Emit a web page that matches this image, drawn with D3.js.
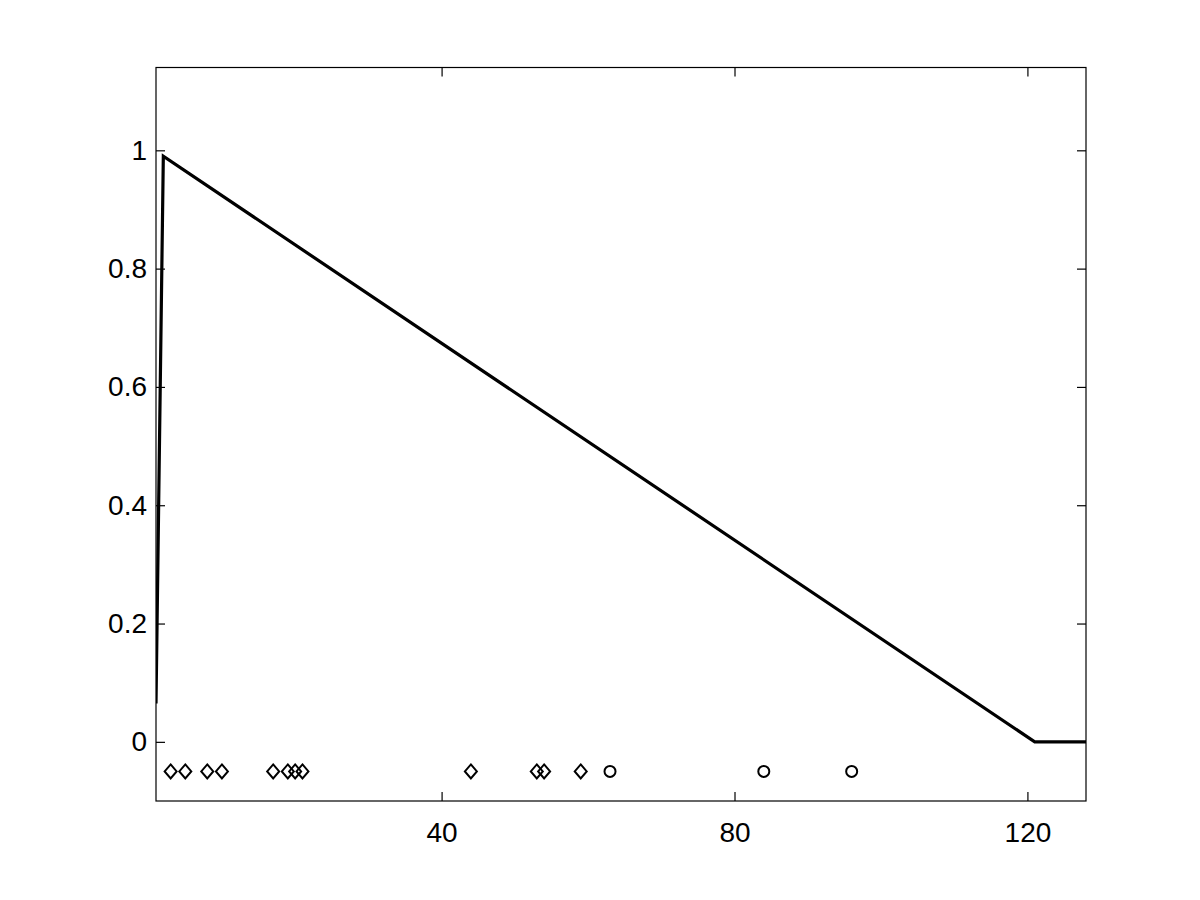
<!DOCTYPE html>
<html>
<head>
<meta charset="utf-8">
<script src="https://cdn.jsdelivr.net/npm/d3@7"></script>
<style>
  html, body { margin: 0; padding: 0; background: #fff; }
  svg { display: block; }
  text { font-family: "Liberation Sans", Arial, sans-serif; }
</style>
</head>
<body>
<svg id="chart" width="1200" height="900"></svg>
<script>
// Line series (x, y)
const lineX = [1, 2, 121, 128];
const lineY = [0.065, 0.99, 0, 0];
// Diamond markers (x positions), at y = -0.05
const diamondX = [3, 5, 8, 10, 17, 19, 20, 21, 44, 53, 54, 59];
// Circle markers (x positions), at y = -0.05
const circleX = [63, 84, 96];
const markerY = -0.05;
// Tick labels
const xTicks = [40, 80, 120];
const yTicks = [0, 0.2, 0.4, 0.6, 0.8, 1];
const xDomain = [1, 128];
const yDomain = [-0.1, 1.14];

const pLeft = 156, pRight = 1086, pTop = 67.5, pBottom = 801;
const svg = d3.select("#chart");
const x = d3.scaleLinear().domain(xDomain).range([pLeft, pRight]);
const y = d3.scaleLinear().domain(yDomain).range([pBottom, pTop]);

const tickLen = 9;
const fontSize = 28;

// axes box
svg.append("rect").attr("x", pLeft).attr("y", pTop)
  .attr("width", pRight - pLeft).attr("height", pBottom - pTop)
  .attr("fill", "none").attr("stroke", "#000").attr("stroke-width", 1.2);

// bottom axis
const xb = svg.append("g").attr("transform", `translate(0,${pBottom})`)
  .call(d3.axisBottom(x).tickValues(xTicks).tickSize(-tickLen).tickPadding(21).tickFormat(d3.format("d")));
// top axis (ticks only)
const xt = svg.append("g").attr("transform", `translate(0,${pTop})`)
  .call(d3.axisTop(x).tickValues(xTicks).tickSize(-tickLen).tickFormat(""));
// left axis
const yl = svg.append("g").attr("transform", `translate(${pLeft},0)`)
  .call(d3.axisLeft(y).tickValues(yTicks).tickSize(-tickLen).tickPadding(9).tickFormat(d => d === 0 ? "0" : d === 1 ? "1" : d3.format(".1f")(d)));
// right axis (ticks only)
const yr = svg.append("g").attr("transform", `translate(${pRight},0)`)
  .call(d3.axisRight(y).tickValues(yTicks).tickSize(-tickLen).tickFormat(""));

[xb, xt, yl, yr].forEach(g => {
  g.select(".domain").remove();
  g.selectAll(".tick line").attr("stroke", "#000").attr("stroke-width", 1.2);
  g.selectAll(".tick text").attr("fill", "#000").attr("font-size", fontSize)
    .attr("font-family", "'Liberation Sans', Arial, sans-serif");
});

// clip
svg.append("clipPath").attr("id", "clip").append("rect")
  .attr("x", pLeft).attr("y", pTop).attr("width", pRight - pLeft).attr("height", pBottom - pTop);

const pts = lineX.map((d, i) => [d, lineY[i]]);
svg.append("path").datum(pts)
  .attr("clip-path", "url(#clip)")
  .attr("fill", "none").attr("stroke", "#000").attr("stroke-width", 3.2)
  .attr("stroke-linejoin", "miter")
  .attr("d", d3.line().x(d => x(d[0])).y(d => y(d[1])));

// diamonds
const dh = 7;
svg.selectAll("path.diamond").data(diamondX).join("path")
  .attr("class", "diamond")
  .attr("fill", "none").attr("stroke", "#000").attr("stroke-width", 2)
  .attr("d", d => {
    const cx = x(d), cy = y(markerY);
    return `M${cx},${cy - dh}L${cx + dh - 1},${cy}L${cx},${cy + dh}L${cx - dh + 1},${cy}Z`;
  });

// circles
svg.selectAll("circle.mk").data(circleX).join("circle")
  .attr("class", "mk")
  .attr("cx", d => x(d)).attr("cy", y(markerY)).attr("r", 5.5)
  .attr("fill", "none").attr("stroke", "#000").attr("stroke-width", 2);
</script>
</body>
</html>
